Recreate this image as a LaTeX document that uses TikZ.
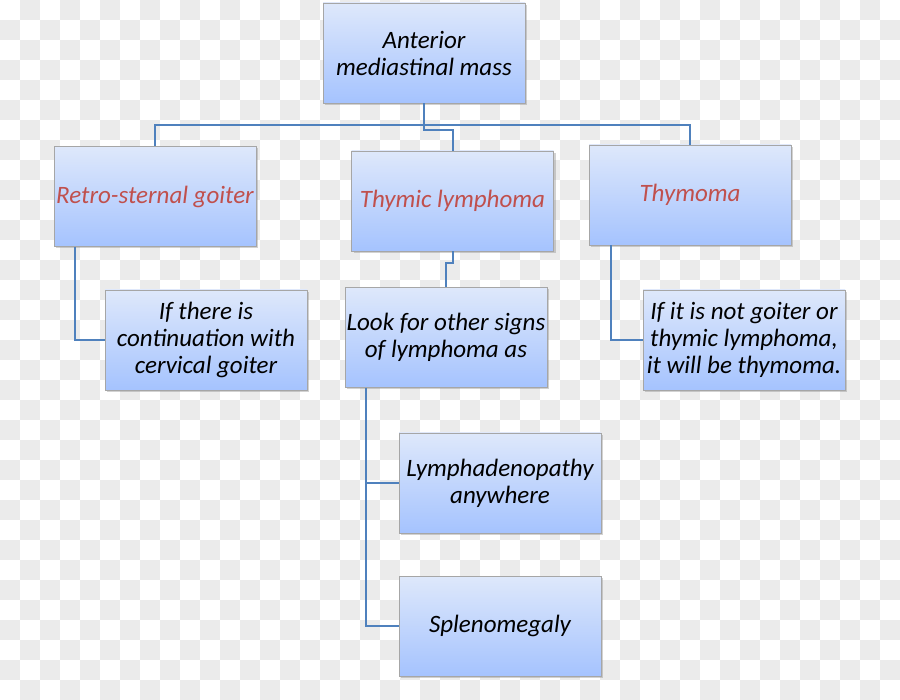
\documentclass[tikz,border=0pt]{standalone}
\usepackage{fontspec}
\setmainfont{Carlito}
\usetikzlibrary{shadows}
\definecolor{linkblue}{RGB}{79,129,189}
\definecolor{titlered}{RGB}{192,80,77}
\definecolor{checkgray}{RGB}{235,235,235}
\begin{document}
\begin{tikzpicture}[x=1pt,y=-1pt,
    box/.style={draw=black!35,line width=0.8pt,top color={rgb,255:red,222;green,232;blue,251},bottom color={rgb,255:red,165;green,195;blue,254},
        rectangle,minimum width=202pt,minimum height=100pt,inner sep=1pt,align=center,font=\fontsize{25}{27}\selectfont\itshape,
        drop shadow={shadow xshift=2pt,shadow yshift=-2pt,opacity=0.35}},
    link/.style={draw=linkblue,line width=2pt}]
    \useasboundingbox (0,0) rectangle (900,700);
    \fill[white] (0,0) rectangle (900,700);
    \foreach \i in {0,40,...,880}
        \foreach \j in {0,40,...,680} {
            \fill[checkgray] (\i+20,\j) rectangle ++(20,20);
            \fill[checkgray] (\i,\j+20) rectangle ++(20,20);
        }
        \node[box] at (424,53) (1) {Anterior\\mediastinal mass};
        \node[box,text=titlered] at (155,196.5) (2) {Retro-sternal goiter};
        \node[box,text=titlered] at (452.5,201) (3) {Thymic lymphoma};
        \node[box,text=titlered] at (690,195) (4) {Thymoma};
        \node[box] at (206,340) (5) {If there is\\continuation with\\cervical goiter};
        \node[box] at (446,337.5) (6) {Look for other signs\\of lymphoma as};
        \node[box] at (744,340) (7) {If it is not goiter or\\thymic lymphoma,\\it will be thymoma.};
        \node[box] at (500,483) (8) {Lymphadenopathy\\anywhere};
        \node[box] at (500,626) (9) {Splenomegaly};
        \coordinate (j1) at (424,125);
        \coordinate (j2) at (424,130);
        \draw[link] (1) -- (j1);
        \draw[link] (2) |- (j1) -| (4);
        \draw[link] (j1) -- (j2) -| (3);
        \draw[link] ([xshift=-80pt]2.south) |- (5);
        \draw[link] ([xshift=-79pt]4.south) |- (7);
        \draw[link] (3.south) -- ++(0,12) -| (6);
        \draw[link] ([xshift=-80pt]6.south) |- (8);
        \draw[link] ([xshift=-80pt]6.south) |- (9);
    \end{tikzpicture}
\end{document}
